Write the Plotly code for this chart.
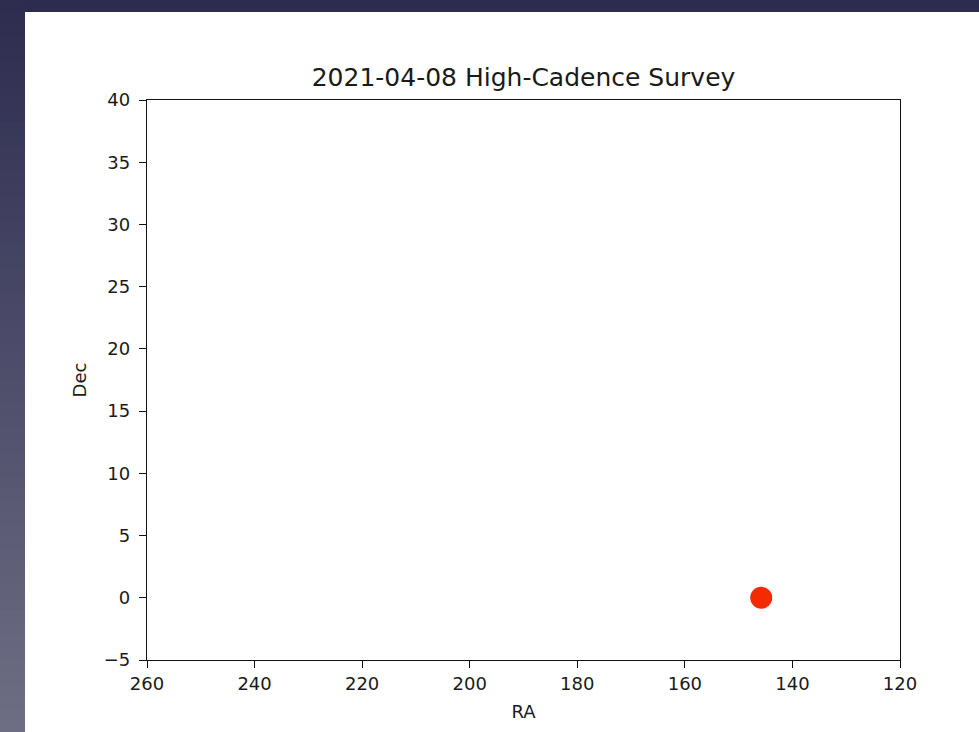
import plotly.graph_objects as go

# Observation pointing (degrees)
ra = [145.8]
dec = [0.0]

x_ticks = [260, 240, 220, 200, 180, 160, 140, 120]
y_ticks = [-5, 0, 5, 10, 15, 20, 25, 30, 35, 40]
y_ticklabels = ["\u22125", "0", "5", "10", "15", "20", "25", "30", "35", "40"]

W, H = 979, 732
L, R, T, B = 147, 900, 100, 660  # plot area in pixels


def fx(p):
    return (p - L) / (R - L)


def fy(p):
    return (B - p) / (B - T)


def mix(c1, c2, t):
    return "#%02x%02x%02x" % tuple(round(a + (b - a) * t) for a, b in zip(c1, c2))


top_col = (0x2d, 0x2c, 0x50)
bot_col = (0x6e, 0x6e, 0x84)

shapes = []
# dark frame: strip across the top and a gradient band down the left side
shapes.append(dict(type="rect", xref="paper", yref="paper",
                   x0=fx(0), x1=fx(W), y0=fy(0), y1=fy(12),
                   fillcolor=mix(top_col, bot_col, 0.0), line_width=0, layer="below"))
n = 60
for i in range(n):
    y0p = i * H / n
    # each band runs to the bottom edge so the next one overlaps it without seams
    shapes.append(dict(type="rect", xref="paper", yref="paper",
                       x0=fx(0), x1=fx(25), y0=fy(H + 2), y1=fy(y0p),
                       fillcolor=mix(top_col, bot_col, (i + 0.5) / n),
                       line_width=0, layer="below"))

fig = go.Figure()
fig.add_trace(go.Scatter(
    x=ra, y=dec, mode="markers",
    marker=dict(color="#f42a00", size=22, line=dict(width=0)),
    showlegend=False,
))

font_family = "DejaVu Sans"
fig.update_layout(
    width=W, height=H,
    margin=dict(l=L, r=W - R, t=T, b=H - B, pad=0),
    paper_bgcolor="white", plot_bgcolor="white",
    shapes=shapes,
    font=dict(family=font_family, size=18, color="#1a1a1a"),
    title=dict(text="2021-04-08 High-Cadence Survey", x=(L + R) / 2 / W, xanchor="center",
               xref="container", yref="container", y=1 - 77 / H, yanchor="middle",
               font=dict(family=font_family, size=25, color="#1a1a1a")),
)
fig.update_xaxes(
    range=[260, 120], tickvals=x_ticks, ticktext=[str(v) for v in x_ticks],
    showgrid=False, zeroline=False, showline=True, linecolor="#111", linewidth=1.3,
    mirror=True, ticks="outside", ticklen=7, tickwidth=1.3, tickcolor="#111",
    tickfont=dict(size=18),
    title=dict(text="RA", font=dict(size=18), standoff=12),
)
fig.update_yaxes(
    range=[-5, 40], tickvals=y_ticks, ticktext=y_ticklabels,
    showgrid=False, zeroline=False, showline=True, linecolor="#111", linewidth=1.3,
    mirror=True, ticks="outside", ticklen=7, tickwidth=1.3, tickcolor="#111",
    tickfont=dict(size=18), ticklabelstandoff=5,
    title=dict(text="Dec", font=dict(size=18), standoff=12),
)

fig.write_html("out.html")
